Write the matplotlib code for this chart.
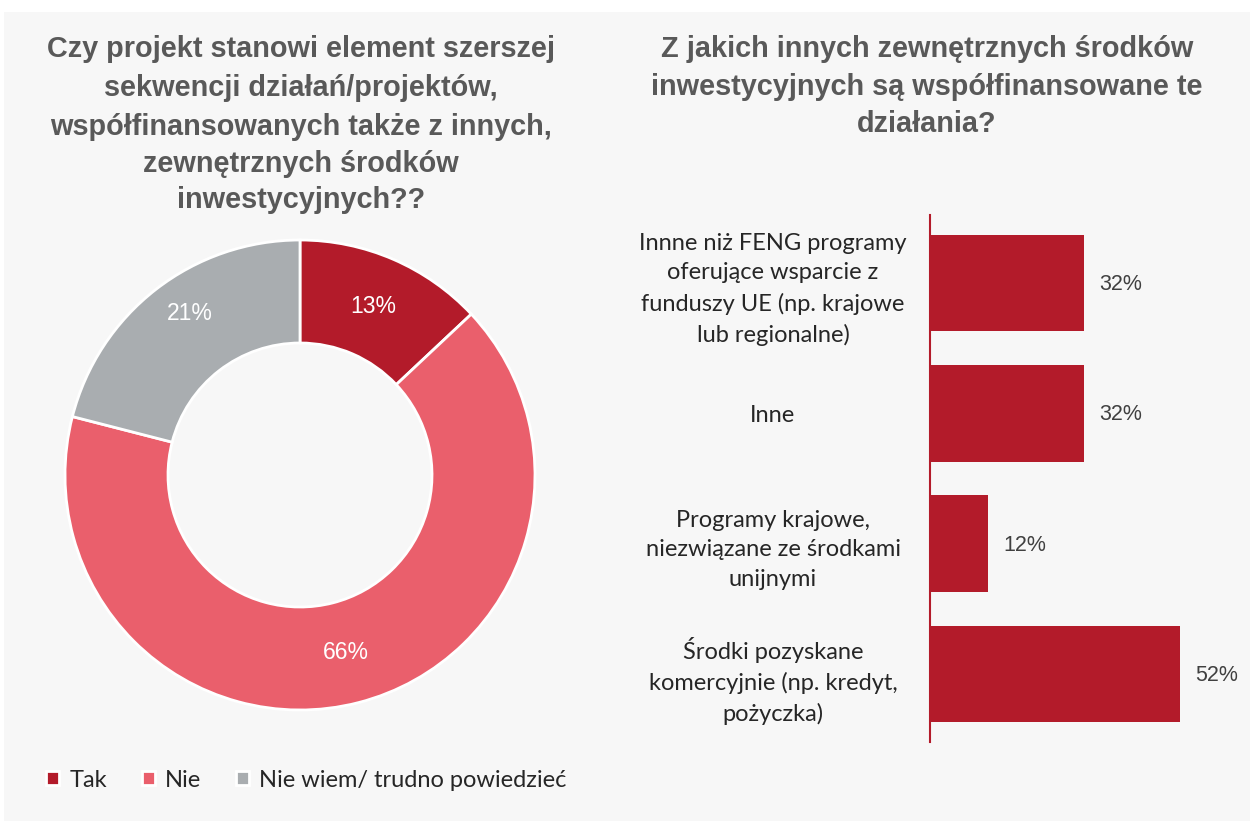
import matplotlib
matplotlib.use("Agg")
import matplotlib.pyplot as plt
from matplotlib.patches import Rectangle

# data
pie_labels = ["Tak", "Nie", "Nie wiem/ trudno powiedzieć"]
pie_values = [13, 66, 21]
pie_colors = ["#B31B2A", "#EA5F6C", "#A9ADB0"]

bar_categories = [
    "Innne niż FENG programy\noferujące wsparcie z\nfunduszy UE (np. krajowe\nlub regionalne)",
    "Inne",
    "Programy krajowe,\nniezwiązane ze środkami\nunijnymi",
    "Środki pozyskane\nkomercyjnie (np. kredyt,\npożyczka)",
]
bar_values = [32, 32, 12, 52]

left_title = ["Czy projekt stanowi element szerszej",
              "sekwencji działań/projektów,",
              "współfinansowanych także z innych,",
              "zewnętrznych środków",
              "inwestycyjnych??"]
right_title = ["Z jakich innych zewnętrznych środków",
               "inwestycyjnych są współfinansowane te",
               "działania?"]

W, H = 1250, 821
BG = "#F7F7F7"
RED = "#B31B2A"

fig = plt.figure(figsize=(W / 100, H / 100), dpi=100)
fig.patch.set_facecolor("white")
fig.patches.append(Rectangle((4 / W, 0), 1, (H - 12) / H, transform=fig.transFigure,
                             facecolor=BG, edgecolor="none", zorder=-10))


def fx(px):
    return px / W


def fy(py):
    return 1 - py / H


# titles
for i, line in enumerate(left_title):
    ys = [49, 88, 127, 164, 200][i]
    fig.text(fx(301), fy(ys), line, ha="center", va="center", fontsize=20.8,
             fontweight="bold", color="#595959", family="Liberation Sans")
for i, line in enumerate(right_title):
    ys = [49, 87, 124][i]
    fig.text(fx(927), fy(ys), line, ha="center", va="center", fontsize=20.8,
             fontweight="bold", color="#595959", family="Liberation Sans")

# donut
r_out, r_in = 235, 132
cx, cy = 300, 475
ax1 = fig.add_axes([fx(cx - r_out), fy(cy + r_out), 2 * r_out / W, 2 * r_out / H])
ax1.set_facecolor("none")
wedges, texts, autotexts = ax1.pie(
    pie_values, colors=pie_colors, startangle=90, counterclock=False, radius=1,
    wedgeprops=dict(width=(r_out - r_in) / r_out, edgecolor="white", linewidth=2),
    autopct=lambda p: f"{p:.0f}%", pctdistance=(r_out + r_in) / 2 / r_out,
    textprops=dict(color="white", fontsize=16.5, family="Liberation Sans"))
ax1.set_xlim(-1, 1)
ax1.set_ylim(-1, 1)
# the grey label sits a bit higher in the original
x21, y21 = autotexts[2].get_position()
autotexts[2].set_position((x21 + 0.01, y21 + 0.07))

leg = fig.legend(wedges, pie_labels, loc="center left", bbox_to_anchor=(fx(25), fy(780)),
                 ncol=3, frameon=False, handlelength=0.55, handleheight=0.55,
                 handletextpad=0.45, columnspacing=1.45,
                 prop=dict(family="Lato", size=17))
for t in leg.get_texts():
    t.set_color("#262626")

# bars
ax2 = fig.add_axes([fx(930), fy(742), (W - 930) / W, (742 - 215) / H])
ax2.set_facecolor("none")
ypos = list(range(len(bar_values)))
ax2.barh(ypos, bar_values, height=0.74, color=RED)
ax2.set_xlim(0, (W - 930) / 4.81)
ax2.set_ylim(3.52, -0.52)
for y, v in zip(ypos, bar_values):
    ax2.annotate(f"{v}%", (v, y), xytext=(11, -1), textcoords="offset points",
                 ha="left", va="center", fontsize=15.5, color="#404040",
                 family="Liberation Sans")
for s in ["top", "right", "bottom"]:
    ax2.spines[s].set_visible(False)
ax2.spines["left"].set_color(RED)
ax2.spines["left"].set_linewidth(1.5)
ax2.set_xticks([])
ax2.set_yticks(ypos)
ax2.set_yticklabels(bar_categories, ha="center", family="Lato", fontsize=17,
                    color="#262626", linespacing=1.5)
ax2.tick_params(axis="y", length=0, pad=157 * 0.72)

fig.savefig("out.png", dpi=100, facecolor=fig.get_facecolor())
